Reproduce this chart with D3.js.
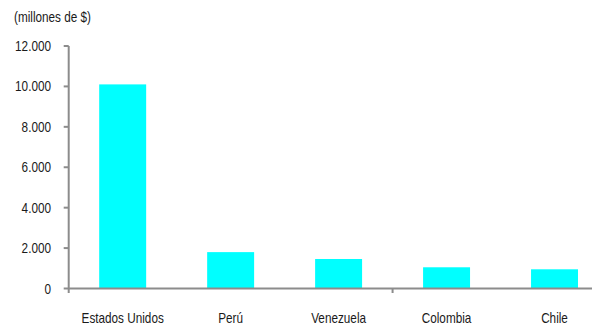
<!DOCTYPE html>
<html>
<head>
<meta charset="utf-8">
<script src="https://cdn.jsdelivr.net/npm/d3@7"></script>
<style>
  html, body { margin: 0; padding: 0; background: #fff; }
  svg { display: block; }
  text { font-family: "Liberation Sans", Arial, sans-serif; fill: #1a1a1a; }
</style>
</head>
<body>
<svg id="chart" width="592" height="325"></svg>
<script>
// Exportaciones por país de destino (millones de $)
const paises = ["Estados Unidos", "Perú", "Venezuela", "Colombia", "Chile"];
const valores = [10100, 1800, 1460, 1050, 950];
const ticksY = [0, 2000, 4000, 6000, 8000, 10000, 12000];
const unidad = "(millones de $)";

const W = 592, H = 325;
const m = { left: 68.7, right: 608.5, top: 46, bottom: 288.5 };
const axisColor = "#8c8c8c";
const barColor = "#00ffff";
const sx = 0.84; // tipografía estrecha

const svg = d3.select("#chart");

const x = d3.scaleBand().domain(paises).range([m.left, m.right])
  .paddingInner(0.565).paddingOuter(0.565 / 2);
const y = d3.scaleLinear().domain([0, 12000]).range([m.bottom, m.top]);

const es = d3.formatLocale({ decimal: ",", thousands: ".", grouping: [3], currency: ["$", ""] });
const fmt = es.format(",.0f");

// barras
svg.append("g").selectAll("rect").data(paises).join("rect")
  .attr("x", d => x(d))
  .attr("width", x.bandwidth())
  .attr("y", (d, i) => y(valores[i]))
  .attr("height", (d, i) => y(0) - y(valores[i]))
  .attr("fill", barColor);

// eje Y
const gy = svg.append("g");
gy.append("line").attr("x1", m.left).attr("x2", m.left).attr("y1", m.top).attr("y2", m.bottom + 4.5)
  .attr("stroke", axisColor).attr("stroke-width", 2);
gy.selectAll("line.tick").data(ticksY).join("line").attr("class", "tick")
  .attr("x1", m.left - 5).attr("x2", m.left).attr("y1", d => y(d)).attr("y2", d => y(d))
  .attr("stroke", axisColor).attr("stroke-width", 2);
gy.selectAll("text").data(ticksY).join("text")
  .attr("transform", d => `translate(51,${y(d) + 5}) scale(${sx},1)`)
  .attr("text-anchor", "end")
  .attr("font-size", 14)
  .text(d => fmt(d));

// eje X (marca cada 3 categorías)
const gx = svg.append("g");
gx.append("line").attr("x1", m.left).attr("x2", W).attr("y1", m.bottom).attr("y2", m.bottom)
  .attr("stroke", axisColor).attr("stroke-width", 2);
const cortes = [3];
const corteX = d => x(paises[d]) - x.step() * x.paddingInner() / 2;
gx.selectAll("line.tick").data(cortes).join("line").attr("class", "tick")
  .attr("x1", corteX).attr("x2", corteX)
  .attr("y1", m.bottom).attr("y2", m.bottom + 4.5)
  .attr("stroke", axisColor).attr("stroke-width", 2);
gx.selectAll("text").data(paises).join("text")
  .attr("transform", d => `translate(${x(d) + x.bandwidth() / 2},323) scale(${sx},1)`)
  .attr("text-anchor", "middle")
  .attr("font-size", 14)
  .text(d => d);

// unidad
svg.append("text")
  .attr("transform", `translate(14,22) scale(${sx},1)`)
  .attr("font-size", 14)
  .text(unidad);
</script>
</body>
</html>
